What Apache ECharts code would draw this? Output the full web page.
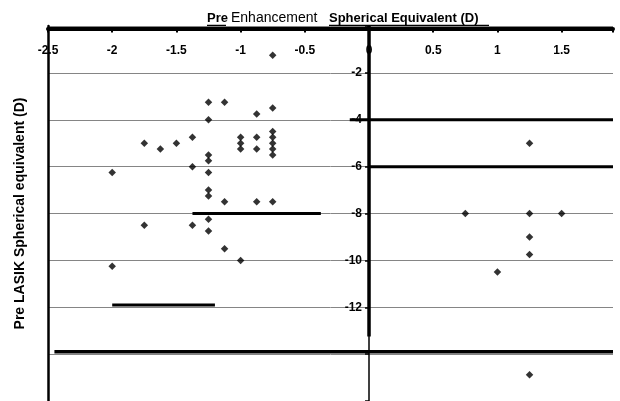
<!DOCTYPE html>
<html>
<head>
<meta charset="utf-8">
<script src="https://cdn.jsdelivr.net/npm/echarts@6/dist/echarts.min.js"></script>
<style>
  html, body { margin: 0; padding: 0; background: #fff; }
  #chart { width: 620px; height: 401px; }
</style>
</head>
<body>
<div id="chart"></div>
<script>
// pre enhancement SE (x) and pre LASIK SE (y), one entry per eye
const preEnhancementSE = [
    -0.75, -1.25, -1.125, -0.875, -0.75, -1.25, -1.75, -1.625, -1.5, -1.375,
    -1, -1, -1, -0.875, -0.875, -0.75, -0.75, -0.75, -0.75, -0.75,
    -1.25, -1.25, -1.25, -1.375, -2, -1.25, -1.25, -1.125, -0.875, -0.75,
    -1.75, -1.375, -1.25, -1.25, -1.125, -1, -2,
    1.25, 0.75, 1.25, 1.5, 1.25, 1.25, 1, 1.25
];
const preLasikSE = [
    -1.25, -3.25, -3.25, -3.75, -3.5, -4, -5, -5.25, -5, -4.75,
    -4.75, -5, -5.25, -4.75, -5.25, -4.5, -4.75, -5, -5.25, -5.5,
    -5.5, -5.75, -6.25, -6, -6.25, -7, -7.25, -7.5, -7.5, -7.5,
    -8.5, -8.5, -8.25, -8.75, -9.5, -10, -10.25,
    -5, -8, -8, -8, -9, -9.75, -10.5, -14.875
];

// heavy horizontal reference lines (y value, from x, to x)
const refLineY = [-4, -6, -8, -11.9, -13.9];
const refLineFrom = [-0.15, 0, -1.375, -2, -2.45];
const refLineTo = [1.9, 1.9, -0.375, -1.2, 1.9];
// heavy part of the zero axis
const zeroAxisEnd = -13.25;

const font = "'Liberation Sans', Arial, sans-serif";

const gridLeft = 48;
const gridWidth = 565;
const xMin = -2.5;
const xMax = 1.9;
// shift the labelled y axis from the grid edge onto x = 0
const zeroOffset = -gridWidth * (0 - xMin) / (xMax - xMin);

const chart = echarts.init(document.getElementById('chart'));

const refSeries = refLineY.map((y, i) => ({
    type: 'line',
    data: [[refLineFrom[i], y], [refLineTo[i], y]],
    showSymbol: false,
    silent: true,
    lineStyle: { color: '#000', width: i === 4 ? 3.5 : 3 }
}));
refSeries.push({
    type: 'line',
    data: [[0, 0], [0, zeroAxisEnd]],
    showSymbol: false,
    silent: true,
    lineStyle: { color: '#000', width: 3.5 }
});

chart.setOption({
    animation: false,
    backgroundColor: '#fff',
    grid: { left: gridLeft, top: 26, width: gridWidth, height: 381 },
    xAxis: {
        type: 'value',
        position: 'top',
        offset: -2.5,
        min: xMin,
        max: xMax,
        interval: 0.5,
        axisLine: { onZero: false, lineStyle: { color: '#000', width: 4 } },
        axisTick: { inside: true, length: 4, lineStyle: { color: '#000', width: 2 } },
        axisLabel: {
            inside: true,
            margin: 16,
            color: '#000',
            fontFamily: font,
            fontSize: 12,
            fontWeight: 'bold',
            formatter: function (v) {
                return Math.abs(v * 2 - Math.round(v * 2)) < 1e-6 ? String(v) : '';
            }
        },
        splitLine: { show: false }
    },
    yAxis: [
        {
            type: 'value',
            position: 'left',
            offset: zeroOffset,
            min: -16,
            max: 0,
            interval: 2,
            axisLine: { onZero: false, lineStyle: { color: '#000', width: 1.5 } },
            axisTick: { length: 4, lineStyle: { color: '#000', width: 1.5 } },
            axisLabel: {
                margin: 7,
                color: '#000',
                fontFamily: font,
                fontSize: 12,
                fontWeight: 'bold',
                formatter: function (v) {
                    return (v < 0 && v >= -12) ? String(v) : '';
                }
            },
            splitLine: { show: true, lineStyle: { color: '#858585', width: 1 } }
        },
        {
            type: 'value',
            position: 'left',
            offset: 0,
            min: -16,
            max: 0,
            interval: 2,
            name: 'Pre LASIK Spherical equivalent (D)',
            nameLocation: 'middle',
            nameRotate: 90,
            nameGap: 21,
            nameTextStyle: { color: '#000', fontFamily: font, fontSize: 14, fontWeight: 'bold' },
            axisLine: { show: true, onZero: false, lineStyle: { color: '#000', width: 2.5 } },
            axisTick: { show: false },
            axisLabel: { show: false },
            splitLine: { show: false }
        }
    ],
    graphic: [
        { type: 'text', left: 207, top: 12, style: { text: 'Pre', font: 'bold 13px ' + font, fill: '#000' } },
        { type: 'text', left: 231, top: 11, style: { text: 'Enhancement', font: '14px ' + font, fill: '#000' } },
        { type: 'text', left: 329, top: 12, style: { text: 'Spherical Equivalent (D)', font: 'bold 13px ' + font, fill: '#000' } },
        { type: 'line', shape: { x1: 207, y1: 25.5, x2: 226, y2: 25.5 }, style: { stroke: '#000', lineWidth: 1.5 } },
        { type: 'line', shape: { x1: 329, y1: 25.5, x2: 489, y2: 25.5 }, style: { stroke: '#000', lineWidth: 1.5 } }
    ],
    series: refSeries.concat([{
        type: 'scatter',
        symbol: 'diamond',
        symbolSize: 7.5,
        itemStyle: { color: '#000' },
        data: preEnhancementSE.map((x, i) => [x, preLasikSE[i]])
    }])
});
</script>
</body>
</html>
